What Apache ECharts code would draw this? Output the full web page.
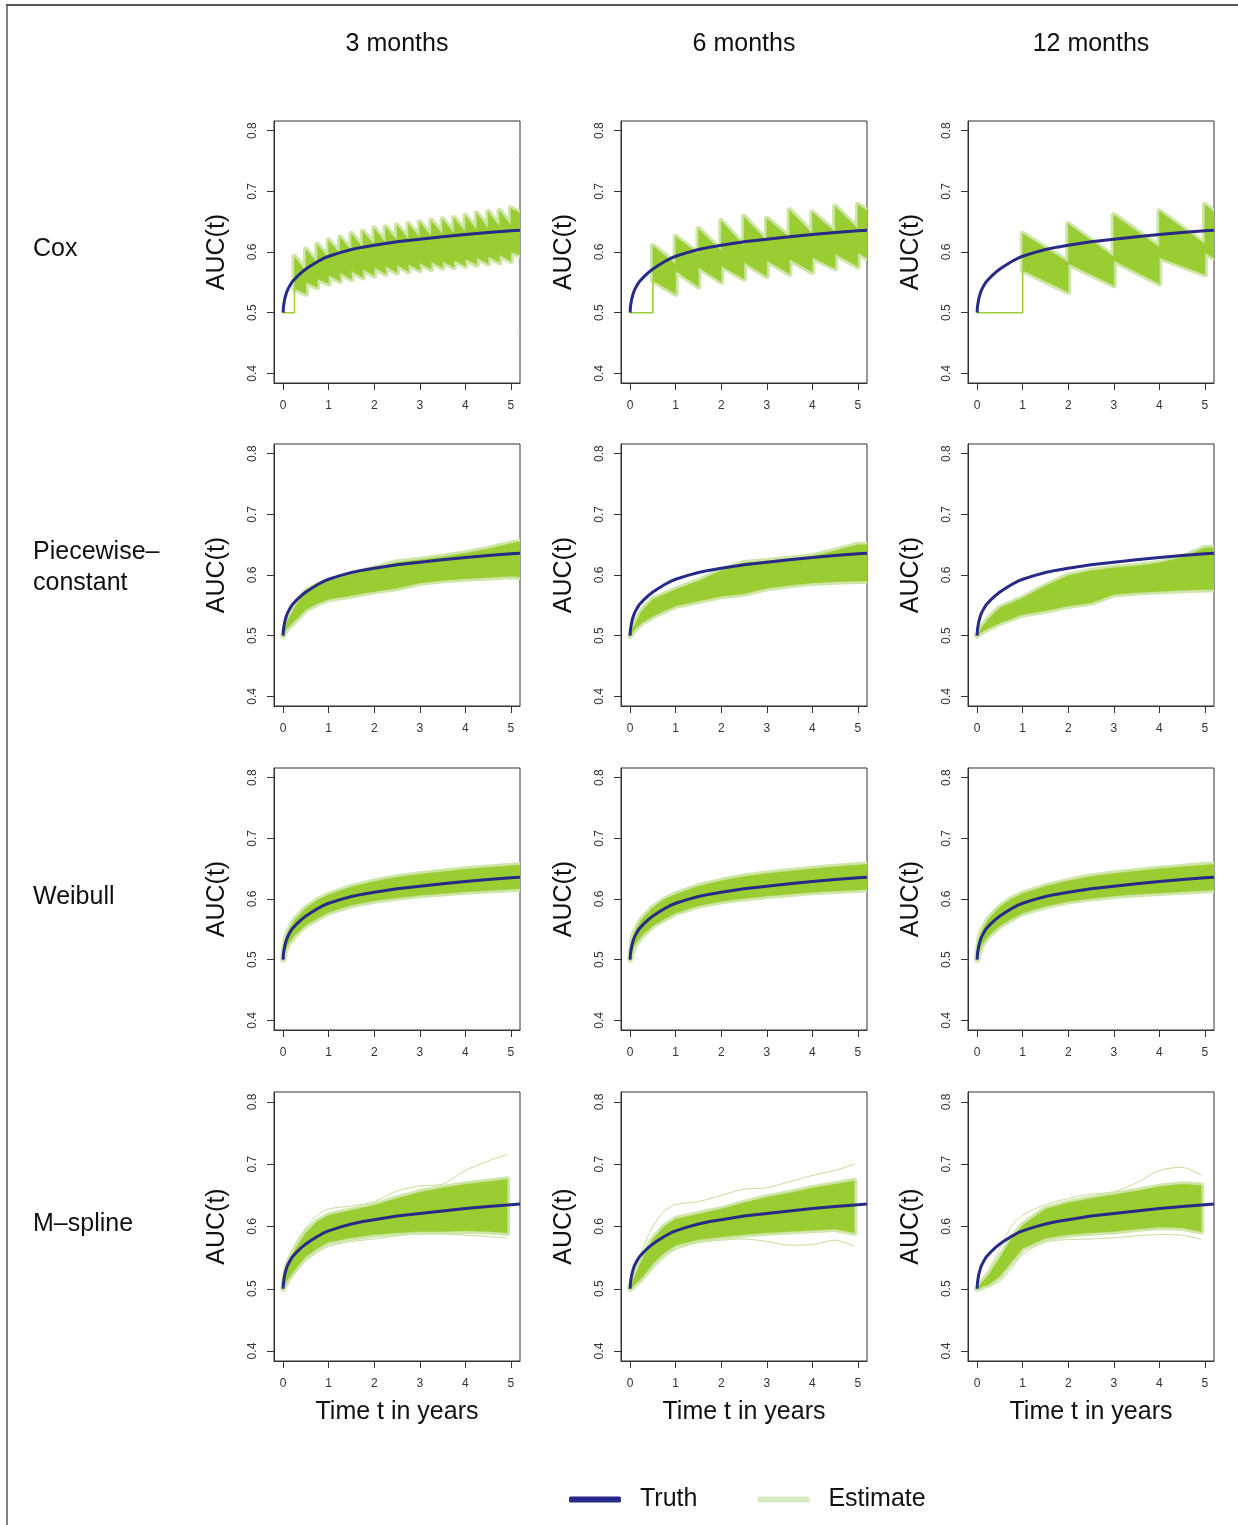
<!DOCTYPE html>
<html><head><meta charset="utf-8">
<script src="https://cdn.jsdelivr.net/npm/echarts@6/dist/echarts.min.js"></script>
<style>html,body{margin:0;padding:0;background:#fff}#c{width:1238px;height:1525px}</style>
</head><body><div id="c"></div>
<script>
// ---------- labels ----------
const colTitles = ['3 months', '6 months', '12 months'];
const rowTitles = ['Cox', 'Piecewise–\nconstant', 'Weibull', 'M–spline'];
const xTicks = [0, 1, 2, 3, 4, 5];
const yTicks = [0.4, 0.5, 0.6, 0.7, 0.8];

// ---------- truth curve ----------
const truthT = [0, 0.005, 0.01, 0.02, 0.04, 0.07, 0.1, 0.15, 0.2, 0.3, 0.4, 0.5, 0.6, 0.75, 0.9, 1, 1.25, 1.5, 1.75, 2, 2.5, 3, 3.5, 4, 4.5, 5, 5.2];
const truthV = [0.500, 0.507, 0.511, 0.516, 0.524, 0.532, 0.538, 0.545, 0.551, 0.559, 0.566, 0.572, 0.577, 0.584, 0.590, 0.593, 0.599, 0.604, 0.608, 0.611, 0.617, 0.621, 0.625, 0.629, 0.632, 0.635, 0.636];

// ---------- Cox (landmark step estimates) ----------
const cox3Jumps = [0.25,0.5,0.75,1,1.25,1.5,1.75,2,2.25,2.5,2.75,3,3.25,3.5,3.75,4,4.25,4.5,4.75,5];
const cox3UpPeak   = [0.592,0.604,0.612,0.619,0.624,0.630,0.634,0.639,0.641,0.644,0.646,0.649,0.652,0.654,0.656,0.660,0.664,0.666,0.668,0.672];
const cox3UpTrough = [0.568,0.582,0.590,0.597,0.602,0.607,0.612,0.615,0.619,0.621,0.624,0.626,0.629,0.631,0.633,0.636,0.639,0.642,0.644,0.664];
const cox3LoPeak   = [0.540,0.550,0.556,0.562,0.566,0.569,0.572,0.575,0.577,0.579,0.580,0.582,0.584,0.585,0.587,0.589,0.591,0.593,0.595,0.600];
const cox3LoTrough = [0.531,0.542,0.548,0.552,0.555,0.558,0.561,0.564,0.566,0.568,0.570,0.572,0.574,0.575,0.577,0.579,0.581,0.583,0.585,0.595];
const cox3Outliers = [[[5.14, 0.759], [5.2, 0.757]], [[5.14, 0.471], [5.2, 0.472]], [[5.14, 0.467], [5.2, 0.468]]];

const cox6Jumps = [0.5,1,1.5,2,2.5,3,3.5,4,4.5,5];
const cox6UpPeak   = [0.610,0.625,0.638,0.651,0.658,0.655,0.669,0.665,0.675,0.678];
const cox6UpTrough = [0.580,0.597,0.602,0.610,0.618,0.624,0.630,0.633,0.638,0.668];
const cox6LoPeak   = [0.553,0.569,0.575,0.577,0.583,0.586,0.588,0.591,0.597,0.599];
const cox6LoTrough = [0.531,0.543,0.551,0.556,0.560,0.564,0.567,0.573,0.576,0.590];

const cox12Jumps = [1,2,3,4,5];
const cox12UpPeak   = [0.630,0.646,0.661,0.667,0.678];
const cox12UpTrough = [0.583,0.592,0.608,0.613,0.666];
const cox12LoPeak   = [0.570,0.581,0.586,0.591,0.599];
const cox12LoTrough = [0.534,0.545,0.548,0.563,0.590];

// ---------- smooth estimates (band envelopes) ----------
const bandT = [0, 0.05, 0.1, 0.25, 0.5, 0.75, 1, 1.5, 2, 2.5, 3, 3.5, 4, 4.5, 5, 5.2];
const pc3Up  = [0.5,0.515,0.525,0.546,0.573,0.583,0.590,0.601,0.611,0.621,0.625,0.630,0.636,0.643,0.652,0.655];
const pc3Lo  = [0.5,0.507,0.513,0.524,0.543,0.553,0.560,0.566,0.573,0.578,0.587,0.591,0.594,0.596,0.598,0.597];
const pc6Up  = [0.5,0.510,0.518,0.540,0.560,0.568,0.576,0.590,0.607,0.620,0.623,0.627,0.631,0.640,0.650,0.650];
const pc6Lo  = [0.5,0.505,0.510,0.521,0.532,0.541,0.549,0.557,0.565,0.569,0.578,0.583,0.587,0.589,0.590,0.590];
const pc12Up = [0.5,0.507,0.513,0.528,0.546,0.554,0.562,0.582,0.599,0.607,0.612,0.615,0.620,0.629,0.645,0.645];
const pc12Lo = [0.5,0.503,0.506,0.512,0.521,0.528,0.535,0.541,0.549,0.554,0.568,0.571,0.573,0.575,0.576,0.576];

const wb3Up  = [0.5,0.532,0.545,0.565,0.585,0.598,0.607,0.620,0.629,0.636,0.641,0.645,0.649,0.652,0.655,0.656];
const wb3Lo  = [0.5,0.515,0.525,0.540,0.557,0.568,0.578,0.590,0.597,0.602,0.606,0.609,0.612,0.614,0.616,0.617];
const wb6Up  = [0.5,0.533,0.546,0.566,0.586,0.599,0.608,0.621,0.630,0.637,0.642,0.646,0.650,0.653,0.656,0.657];
const wb6Lo  = [0.5,0.514,0.524,0.539,0.556,0.567,0.577,0.589,0.596,0.601,0.605,0.608,0.611,0.613,0.615,0.616];
const wb12Up = [0.5,0.534,0.547,0.567,0.587,0.600,0.609,0.621,0.630,0.637,0.642,0.646,0.650,0.653,0.656,0.657];
const wb12Lo = [0.5,0.514,0.524,0.539,0.556,0.567,0.577,0.588,0.596,0.601,0.605,0.608,0.610,0.612,0.614,0.615];

const msT = [0, 0.05, 0.1, 0.25, 0.5, 0.75, 1, 1.5, 2, 2.5, 3, 3.5, 4, 4.5, 4.92];
const ms3Up    = [0.5,0.525,0.540,0.562,0.590,0.608,0.618,0.626,0.634,0.645,0.655,0.662,0.668,0.672,0.676];
const ms3Lo    = [0.5,0.507,0.515,0.530,0.552,0.565,0.575,0.582,0.587,0.590,0.592,0.592,0.593,0.592,0.590];
const ms3OutUp = [0.5,0.530,0.545,0.570,0.598,0.618,0.628,0.633,0.640,0.657,0.665,0.668,0.690,0.705,0.716];
const ms3OutLo = [0.5,0.503,0.510,0.524,0.545,0.558,0.568,0.576,0.580,0.585,0.588,0.588,0.586,0.584,0.581];
const ms6Up    = [0.5,0.510,0.520,0.545,0.580,0.600,0.612,0.620,0.628,0.638,0.647,0.654,0.662,0.668,0.673];
const ms6Lo    = [0.5,0.503,0.507,0.517,0.540,0.558,0.570,0.579,0.583,0.587,0.590,0.592,0.594,0.596,0.590];
const ms6OutUp = [0.5,0.515,0.530,0.560,0.600,0.625,0.635,0.640,0.650,0.660,0.662,0.672,0.682,0.690,0.700];
const ms6OutLo = [0.5,0.501,0.503,0.512,0.532,0.550,0.563,0.574,0.578,0.580,0.576,0.570,0.571,0.578,0.568];
const ms12Up    = [0.5,0.505,0.510,0.522,0.550,0.580,0.602,0.628,0.638,0.645,0.651,0.657,0.664,0.668,0.666];
const ms12Lo    = [0.5,0.501,0.503,0.507,0.520,0.543,0.565,0.581,0.587,0.590,0.592,0.596,0.599,0.598,0.592];
const ms12OutUp = [0.5,0.507,0.515,0.530,0.565,0.600,0.618,0.635,0.645,0.652,0.656,0.670,0.690,0.695,0.682];
const ms12OutLo = [0.5,0.500,0.501,0.503,0.512,0.532,0.555,0.575,0.579,0.580,0.582,0.585,0.587,0.586,0.579];

// ---------- layout & style ----------
const FONT = "'Liberation Sans', Arial, Helvetica, sans-serif";
const colLeft = [274, 621, 968];
const gridW = 246;
const rowTop = [121, 444, 768, 1092];
const rowH = [262, 262, 262, 269];
const NAVY = '#272a86', CORE = '#9acd32', HALO = '#cfe6a9', FAINT = '#c4df98', LEG_EST = '#d6e9c1';

const zip = (ts, vs) => ts.map((t, i) => [t, vs[i]]);
function coxBand(j, up, upT, lo, loT) {
  const U = [], L = [];
  j.forEach((t, k) => {
    const nx = k + 1 < j.length ? j[k + 1] : 5.2;
    U.push([t, up[k]], [nx, upT[k]]);
    L.push([t, lo[k]], [nx, loT[k]]);
  });
  return { up: U, lo: L };
}

const panels = [
  [ {band: coxBand(cox3Jumps, cox3UpPeak, cox3UpTrough, cox3LoPeak, cox3LoTrough), flat: [[0,0.5],[cox3Jumps[0],0.5],[cox3Jumps[0],cox3LoPeak[0]]], extras: cox3Outliers},
    {band: coxBand(cox6Jumps, cox6UpPeak, cox6UpTrough, cox6LoPeak, cox6LoTrough), flat: [[0,0.5],[cox6Jumps[0],0.5],[cox6Jumps[0],cox6LoPeak[0]]], extras: []},
    {band: coxBand(cox12Jumps, cox12UpPeak, cox12UpTrough, cox12LoPeak, cox12LoTrough), flat: [[0,0.5],[cox12Jumps[0],0.5],[cox12Jumps[0],cox12LoPeak[0]]], extras: []} ],
  [ {band: {up: zip(bandT, pc3Up), lo: zip(bandT, pc3Lo)}, extras: []},
    {band: {up: zip(bandT, pc6Up), lo: zip(bandT, pc6Lo)}, extras: []},
    {band: {up: zip(bandT, pc12Up), lo: zip(bandT, pc12Lo)}, extras: []} ],
  [ {band: {up: zip(bandT, wb3Up), lo: zip(bandT, wb3Lo)}, extras: []},
    {band: {up: zip(bandT, wb6Up), lo: zip(bandT, wb6Lo)}, extras: []},
    {band: {up: zip(bandT, wb12Up), lo: zip(bandT, wb12Lo)}, extras: []} ],
  [ {band: {up: zip(msT, ms3Up), lo: zip(msT, ms3Lo)}, extras: [zip(msT, ms3OutUp), zip(msT, ms3OutLo)]},
    {band: {up: zip(msT, ms6Up), lo: zip(msT, ms6Lo)}, extras: [zip(msT, ms6OutUp), zip(msT, ms6OutLo)]},
    {band: {up: zip(msT, ms12Up), lo: zip(msT, ms12Lo)}, extras: [zip(msT, ms12OutUp), zip(msT, ms12OutLo)]} ]
];

const grid = [], xAxis = [], yAxis = [], series = [], graphic = [];
const truthData = zip(truthT, truthV);

panels.forEach((row, r) => row.forEach((p, c) => {
  const i = grid.length;
  grid.push({ left: colLeft[c], top: rowTop[r], width: gridW, height: rowH[r], show: true,
    borderColor: '#333', borderWidth: 1, backgroundColor: 'transparent', containLabel: false });
  xAxis.push({ gridIndex: i, type: 'value', min: -0.2, max: 5.2,
    axisLine: { show: true, onZero: false, lineStyle: { color: '#333', width: 1 } },
    axisTick: { show: true, inside: false, customValues: xTicks, length: 7, lineStyle: { color: '#333' } },
    axisLabel: { customValues: xTicks, fontSize: 12, color: '#333', margin: 17, fontFamily: FONT },
    splitLine: { show: false } });
  yAxis.push({ gridIndex: i, type: 'value', min: 0.384, max: 0.816,
    axisLine: { show: true, onZero: false, lineStyle: { color: '#333', width: 1 } },
    axisTick: { show: true, inside: false, customValues: yTicks, length: 7, lineStyle: { color: '#333' } },
    axisLabel: { customValues: yTicks, rotate: 90, fontSize: 12, color: '#333', margin: 15, fontFamily: FONT,
      formatter: v => v.toFixed(1) },
    splitLine: { show: false },
    name: 'AUC(t)', nameLocation: 'middle', nameGap: 44, nameRotate: 90,
    nameTextStyle: { fontSize: 25, color: '#111', fontFamily: FONT } });

  const band = p.band;
  series.push({ type: 'custom', name: 'Estimate', xAxisIndex: i, yAxisIndex: i, clip: true, silent: true,
    data: [[0, 0.5]], z: 2,
    renderItem: (params, api) => {
      const pts = band.up.map(q => api.coord(q)).concat(band.lo.slice().reverse().map(q => api.coord(q)));
      return { type: 'group', children: [
        { type: 'polygon', shape: { points: pts }, style: { fill: 'none', stroke: HALO, lineWidth: 6, lineJoin: 'round' } },
        { type: 'polygon', shape: { points: pts }, style: { fill: CORE, stroke: CORE, lineWidth: 0.5 } }
      ]};
    } });
  p.extras.forEach(ex => series.push({ type: 'line', name: 'Estimate', xAxisIndex: i, yAxisIndex: i, data: ex,
    showSymbol: false, silent: true, smooth: 0.3, lineStyle: { color: FAINT, width: 1 }, z: 1 }));
  if (p.flat) series.push({ type: 'line', name: 'Estimate', xAxisIndex: i, yAxisIndex: i, data: p.flat,
    showSymbol: false, silent: true, lineStyle: { color: CORE, width: 1.5 }, z: 3 });
  series.push({ type: 'line', name: 'Truth', xAxisIndex: i, yAxisIndex: i, data: truthData,
    showSymbol: false, silent: true, smooth: false, lineStyle: { color: NAVY, width: 3, join: 'round' }, z: 5 });
}));

// frame
graphic.push({ type: 'line', shape: { x1: 6, y1: 5, x2: 1238, y2: 5 }, style: { stroke: '#555', lineWidth: 2 } });
graphic.push({ type: 'line', shape: { x1: 7, y1: 5, x2: 7, y2: 1525 }, style: { stroke: '#555', lineWidth: 1.5 } });
// column titles and bottom axis titles
colTitles.forEach((t, c) => {
  const cx = colLeft[c] + gridW / 2;
  graphic.push({ type: 'text', x: cx, y: 44, style: { text: t, font: '25px ' + FONT, fill: '#111', align: 'center', verticalAlign: 'middle' } });
  graphic.push({ type: 'text', x: cx, y: 1412, style: { text: 'Time t in years', font: '25px ' + FONT, fill: '#111', align: 'center', verticalAlign: 'middle' } });
});
// row titles
const rowLabelY = [249, 568, 897, 1224];
rowTitles.forEach((t, r) => {
  graphic.push({ type: 'text', x: 33, y: rowLabelY[r], style: { text: t, font: '25px ' + FONT, fill: '#111', align: 'left', verticalAlign: 'middle', lineHeight: 31 } });
});

const chart = echarts.init(document.getElementById('c'), null, { renderer: 'canvas' });
chart.setOption({
  animation: false,
  backgroundColor: '#fff',
  grid, xAxis, yAxis, series, graphic,
  legend: { left: 564, top: 1482, itemWidth: 52, itemHeight: 6, itemGap: 60, icon: 'roundRect', selectedMode: false,
    textStyle: { fontSize: 25, color: '#111', fontFamily: FONT, padding: [0, 0, 0, 14] },
    data: [ { name: 'Truth', itemStyle: { color: NAVY } }, { name: 'Estimate', itemStyle: { color: LEG_EST } } ] }
});
</script></body></html>
